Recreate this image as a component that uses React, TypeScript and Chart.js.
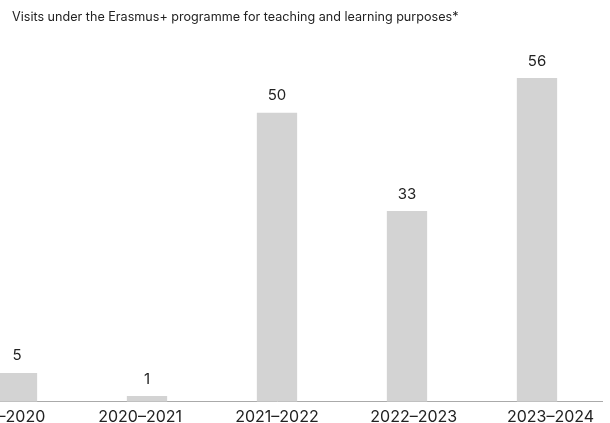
import React, { useEffect, useRef } from "react";
import { Chart, registerables } from "chart.js";

Chart.register(...registerables);

const title = "Visits under the Erasmus+ programme for teaching and learning purposes*";
const categories = ["2019–2020", "2020–2021", "2021–2022", "2022–2023", "2023–2024"];
const visits = [5, 1, 50, 33, 56];

const FONT = "Inter, 'Noto Sans', sans-serif";

const valueLabels = {
  id: "valueLabels",
  afterDatasetsDraw(chart: any) {
    const ctx = chart.ctx;
    const meta = chart.getDatasetMeta(0);
    ctx.save();
    ctx.fillStyle = "#222";
    ctx.font = `15px ${FONT}`;
    ctx.textAlign = "center";
    ctx.textBaseline = "middle";
    meta.data.forEach((bar: any, i: number) => {
      ctx.fillText(String(chart.data.datasets[0].data[i]), bar.x, bar.y - 17);
    });
    ctx.restore();
  },
};

export default function App() {
  const ref = useRef<HTMLCanvasElement>(null);
  useEffect(() => {
    if (!ref.current) return;
    const chart = new Chart(ref.current, {
      type: "bar",
      data: {
        labels: categories,
        datasets: [
          {
            data: visits,
            backgroundColor: "#d3d3d3",
            barPercentage: 0.62,
            categoryPercentage: 0.5,
            xAxisID: "x",
          },
        ],
      },
      options: {
        animation: false,
        responsive: false,
        maintainAspectRatio: false,
        layout: { padding: { top: 78, left: 12, right: 8, bottom: -10 } },
        plugins: { legend: { display: false }, tooltip: { enabled: false } },
        scales: {
          x: { display: false },
          xl: {
            type: "linear",
            position: "bottom",
            offset: false,
            bounds: "data",
            min: -0.375,
            max: 4.376,
            afterBuildTicks: (axis: any) => {
              axis.ticks = categories.map((_, i) => ({ value: i }));
            },
            grid: { display: false, drawTicks: false, offset: false },
            border: { display: true, color: "#aaa", width: 1 },
            ticks: {
              color: "#222",
              font: { size: 16, family: FONT },
              padding: 6,
              maxRotation: 0,
              autoSkip: false,
              callback: (v: any) => categories[Math.round(Number(v))] ?? "",
            },
          },
          y: { display: false, min: 0, max: 56 },
        },
      },
      plugins: [valueLabels],
    });
    return () => chart.destroy();
  }, []);
  return (
    <div style={{ position: "fixed", left: 0, top: 0, width: 610, height: 423, overflow: "hidden", background: "#fff" }}>
      <canvas
        ref={ref}
        width={670}
        height={423}
        style={{ position: "absolute", left: -60, top: 0, width: 670, height: 423 }}
      />
      <div
        style={{
          position: "absolute",
          left: 12,
          top: 9,
          fontFamily: FONT,
          fontSize: 12.6,
          color: "#222",
          whiteSpace: "nowrap",
        }}
      >
        {title}
      </div>
    </div>
  );
}
